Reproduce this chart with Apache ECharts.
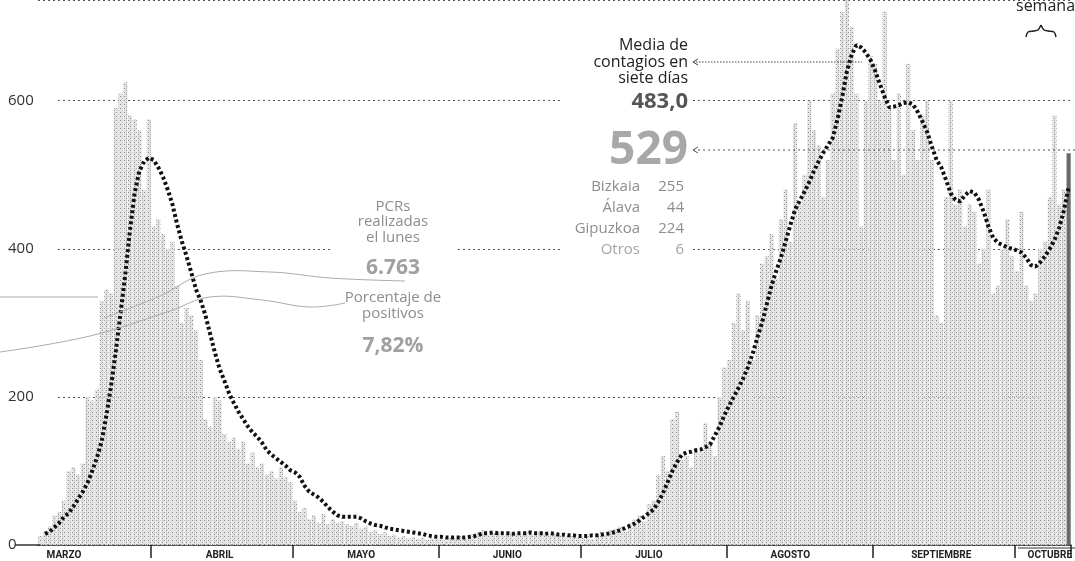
<!DOCTYPE html>
<html>
<head>
<meta charset="utf-8">
<script src="https://cdn.jsdelivr.net/npm/echarts@6/dist/echarts.min.js"></script>
<style>
html, body { margin: 0; padding: 0; background: #fff; }
#chart { width: 1075px; height: 561px; }
</style>
</head>
<body>
<div id="chart"></div>
<script>
// meses visibles (marzo empieza el dia 8, octubre acaba el 12)
const months = ['MARZO', 'ABRIL', 'MAYO', 'JUNIO', 'JULIO', 'AGOSTO', 'SEPTIEMBRE', 'OCTUBRE'];
const monthNum = [3, 4, 5, 6, 7, 8, 9, 10];
const firstDay = [8, 1, 1, 1, 1, 1, 1, 1];
const monthLen = [24, 30, 31, 30, 31, 31, 30, 12];
const labelDay = [13, 15, 15, 15, 15, 14, 15, 8];
const yTicks = [0, 200, 400, 600];

// contagios diarios
const marzo = [12, 18, 25, 40, 45, 60, 100, 105, 95, 110, 200, 195, 210, 330, 345, 340, 590, 610, 625, 580, 575, 560, 480, 575];
const abril = [430, 440, 420, 400, 410, 350, 300, 320, 310, 290, 250, 170, 160, 200, 195, 150, 140, 145, 130, 140, 110, 125, 105, 110, 95, 100, 90, 105, 92, 85];
const mayo = [60, 45, 50, 35, 40, 30, 42, 28, 35, 30, 32, 28, 26, 30, 22, 25, 18, 20, 15, 17, 12, 14, 10, 12, 9, 11, 8, 10, 7, 9, 8];
const junio = [8, 6, 10, 9, 12, 8, 14, 15, 18, 20, 14, 16, 18, 12, 15, 17, 16, 14, 18, 15, 13, 19, 16, 12, 15, 14, 11, 13, 12, 10];
const julio = [10, 12, 8, 15, 18, 14, 20, 22, 25, 18, 30, 35, 40, 32, 55, 60, 95, 120, 100, 170, 180, 115, 120, 105, 130, 125, 165, 140, 120, 200, 240];
const agosto = [250, 300, 340, 290, 330, 250, 310, 380, 390, 420, 360, 440, 480, 410, 570, 460, 500, 600, 560, 540, 470, 520, 610, 670, 720, 740, 700, 610, 430, 600, 660];
const septiembre = [650, 600, 720, 590, 520, 610, 500, 650, 560, 520, 580, 600, 520, 310, 300, 470, 600, 460, 480, 430, 460, 450, 380, 400, 480, 340, 350, 400, 440, 390];
const octubre = [370, 450, 350, 330, 340, 400, 410, 470, 580, 460, 480, 529];

// media de contagios en siete dias
const mediaMarzo = [null, 15, 18, 24, 30, 38, 43, 52, 62, 72, 84, 100, 118, 140, 175, 215, 262, 313, 365, 425, 476, 505, 518, 523];
const mediaAbril = [520, 510, 497, 480, 460, 433, 410, 390, 368, 345, 330, 310, 285, 260, 238, 222, 205, 192, 180, 170, 160, 152, 146, 138, 128, 122, 117, 112, 107, 101];
const mediaMayo = [98, 92, 80, 72, 68, 64, 58, 51, 45, 40, 38, 38, 38, 38, 36, 32, 29, 27, 26, 24, 22, 21, 20, 19, 18, 17, 16, 15, 13, 12, 11];
const mediaJunio = [11, 10, 10, 10, 10, 10, 11, 12, 14, 16, 16, 17, 16, 16, 16, 15, 16, 16, 16, 17, 16, 16, 15, 16, 15, 14, 14, 13, 13, 12];
const mediaJulio = [12, 12, 13, 13, 14, 15, 16, 18, 20, 23, 26, 29, 33, 38, 43, 48, 58, 70, 85, 100, 112, 122, 125, 126, 128, 129, 132, 136, 148, 160, 175];
const mediaAgosto = [188, 200, 212, 225, 240, 258, 280, 300, 325, 350, 370, 388, 410, 432, 453, 465, 477, 490, 505, 518, 530, 540, 550, 575, 605, 640, 662, 675, 672, 665, 655];
const mediaSeptiembre = [640, 622, 605, 591, 592, 594, 597, 598, 595, 585, 572, 558, 538, 520, 510, 493, 475, 466, 464, 472, 478, 476, 466, 450, 430, 415, 408, 405, 402, 400];
const mediaOctubre = [398, 395, 388, 378, 376, 382, 390, 400, 412, 428, 452, 483];

const daily = [].concat(marzo, abril, mayo, junio, julio, agosto, septiembre, octubre);
const media = [].concat(mediaMarzo, mediaAbril, mediaMayo, mediaJunio, mediaJulio, mediaAgosto, mediaSeptiembre, mediaOctubre);

const days = [];
const monthOf = [];
const dayOf = [];
months.forEach(function (m, k) {
  for (let d = firstDay[k]; d < firstDay[k] + monthLen[k]; d++) {
    days.push(d + '/' + monthNum[k]);
    monthOf.push(k);
    dayOf.push(d);
  }
});

// textura punteada de las barras
function stipple() {
  const c = document.createElement('canvas');
  c.width = 4; c.height = 4;
  const ctx = c.getContext('2d');
  ctx.fillStyle = '#e4e4e4';
  ctx.fillRect(0, 0, 4, 4);
  ctx.fillStyle = '#8c8c8c';
  ctx.fillRect(0, 0, 1, 1);
  ctx.fillRect(2, 2, 1, 1);
  ctx.fillStyle = '#bcbcbc';
  ctx.fillRect(2, 0, 1, 1);
  return c;
}
const barFill = { image: stipple(), repeat: 'repeat' };

const txt = function (text, x, y, font, fill, align) {
  return {
    type: 'text', x: x, y: y, z: 10,
    style: { text: text, font: font, fill: fill, align: align || 'center', verticalAlign: 'middle' }
  };
};
const grey = '#8d8d8d';
const fontO = "'Open Sans', sans-serif";

const chart = echarts.init(document.getElementById('chart'));
chart.setOption({
  animation: false,
  grid: { left: 38, right: 0, top: 0, bottom: 16 },
  xAxis: [
    {
      type: 'category',
      data: days,
      axisLine: { lineStyle: { color: '#333', width: 1.5 } },
      axisTick: { show: false },
      axisLabel: {
        margin: 5,
        hideOverlap: false,
        interval: function (i) { return dayOf[i] === labelDay[monthOf[i]]; },
        formatter: function (v, i) { return months[monthOf[i]]; },
        color: '#222',
        fontSize: 10,
        fontWeight: 'bold',
        fontFamily: 'Roboto'
      }
    },
    {
      // separadores de mes
      type: 'category',
      data: days,
      position: 'bottom',
      axisLine: { show: false },
      axisLabel: { show: false },
      axisTick: {
        show: true,
        alignWithLabel: false,
        length: 13,
        interval: function (i) { return dayOf[i] === 1; },
        lineStyle: { color: '#222', width: 1.5 }
      }
    }
  ],
  yAxis: {
    type: 'value',
    min: 0,
    max: 736,
    interval: 200,
    axisLine: { show: false },
    axisTick: { show: false },
    axisLabel: {
      showMaxLabel: false,
      align: 'left',
      margin: 30,
      color: '#333',
      fontSize: 15,
      fontFamily: fontO,
      formatter: function (v) { return yTicks.indexOf(v) >= 0 ? String(v) : ''; }
    },
    splitLine: { lineStyle: { color: '#555', type: [2, 3], width: 1 } }
  },
  series: [
    {
      type: 'bar',
      data: daily.map(function (v, i) {
        return i === daily.length - 1 ? { value: v, itemStyle: { color: '#6a6a6a' } } : v;
      }),
      barCategoryGap: '12%',
      itemStyle: { color: barFill },
      z: 2
    },
    {
      type: 'line',
      data: media,
      symbol: 'none',
      connectNulls: false,
      lineStyle: { color: '#111', width: 4, type: [3, 2.6], cap: 'butt' },
      z: 3
    }
  ],
  graphic: [
    // huecos blancos en la reticula bajo los textos
    { type: 'rect', z: 1, shape: { x: 36, y: 90, width: 20, height: 320 }, style: { fill: '#fff' } },
    { type: 'rect', z: 1, shape: { x: 333, y: 195, width: 124, height: 165 }, style: { fill: '#fff' } },
    { type: 'rect', z: 1, shape: { x: 560, y: 32, width: 132, height: 232 }, style: { fill: '#fff' } },
    // prolongacion del eje en el cero
    { type: 'line', z: 5, shape: { x1: 15, y1: 545, x2: 40, y2: 545 }, style: { stroke: '#333', lineWidth: 1.5 } },
    // marca superior del separador de octubre
    { type: 'line', z: 5, shape: { x1: 1018, y1: 548, x2: 1075, y2: 548 }, style: { stroke: '#333', lineWidth: 1 } },
    // trazos grises a mano
    { type: 'polyline', z: 4, shape: { points: [[0, 297], [98, 297]] }, style: { stroke: '#aaa', lineWidth: 1 } },
    { type: 'polyline', z: 4, shape: { smooth: 0.4, points: [[104, 318], [160, 296], [205, 274], [270, 272], [330, 278], [405, 281]] }, style: { stroke: '#aaa', lineWidth: 1 } },
    { type: 'polyline', z: 4, shape: { smooth: 0.4, points: [[0, 352], [90, 336], [170, 311], [210, 297], [262, 300], [310, 307], [345, 303]] }, style: { stroke: '#aaa', lineWidth: 1 } },
    // flechas de las anotaciones
    { type: 'line', z: 5, shape: { x1: 693, y1: 62, x2: 862, y2: 62 }, style: { stroke: '#444', lineWidth: 1, lineDash: [1.5, 1.5] } },
    { type: 'polyline', z: 5, shape: { points: [[698, 59], [693, 62], [698, 65]] }, style: { stroke: '#444', lineWidth: 1, fill: null } },
    { type: 'line', z: 5, shape: { x1: 693, y1: 150, x2: 1075, y2: 150 }, style: { stroke: '#555', lineWidth: 1, lineDash: [2, 3] } },
    { type: 'polyline', z: 5, shape: { points: [[698, 147], [693, 150], [698, 153]] }, style: { stroke: '#555', lineWidth: 1, fill: null } },
    // llave de la ultima semana
    { type: 'polyline', z: 5, shape: { smooth: 0.3, points: [[1026, 37], [1028, 32], [1034, 31], [1038, 30], [1041, 25]] }, style: { stroke: '#222', lineWidth: 1.5, fill: null } },
    { type: 'polyline', z: 5, shape: { smooth: 0.3, points: [[1041, 25], [1044, 30], [1048, 31], [1054, 32], [1056, 37]] }, style: { stroke: '#222', lineWidth: 1.5, fill: null } },
    txt('semana', 1016, 6, '16px ' + fontO, '#222', 'left'),
    // PCRs
    txt('PCRs', 393, 207, '15px ' + fontO, grey),
    txt('realizadas', 393, 222, '15px ' + fontO, grey),
    txt('el lunes', 393, 238, '15px ' + fontO, grey),
    txt('6.763', 393, 268, 'bold 21px ' + fontO, '#a0a0a0'),
    txt('Porcentaje de', 393, 298, '15px ' + fontO, grey),
    txt('positivos', 393, 314, '15px ' + fontO, grey),
    txt('7,82%', 393, 346, 'bold 21px ' + fontO, '#a0a0a0'),
    // media y total
    txt('Media de', 688, 45, '16px ' + fontO, '#222', 'right'),
    txt('contagios en', 688, 62, '16px ' + fontO, '#222', 'right'),
    txt('siete días', 688, 78, '16px ' + fontO, '#222', 'right'),
    txt('483,0', 688, 102, 'bold 22px ' + fontO, '#555', 'right'),
    txt('529', 688, 151, 'bold 46px ' + fontO, '#a8a8a8', 'right'),
    txt('Bizkaia', 640, 187, '15px ' + fontO, grey, 'right'),
    txt('255', 684, 187, '15px ' + fontO, grey, 'right'),
    txt('Álava', 640, 208, '15px ' + fontO, grey, 'right'),
    txt('44', 684, 208, '15px ' + fontO, grey, 'right'),
    txt('Gipuzkoa', 640, 229, '15px ' + fontO, grey, 'right'),
    txt('224', 684, 229, '15px ' + fontO, grey, 'right'),
    txt('Otros', 640, 250, '15px ' + fontO, '#a5a5a5', 'right'),
    txt('6', 684, 250, '15px ' + fontO, '#a5a5a5', 'right')
  ]
});
</script>
</body>
</html>
